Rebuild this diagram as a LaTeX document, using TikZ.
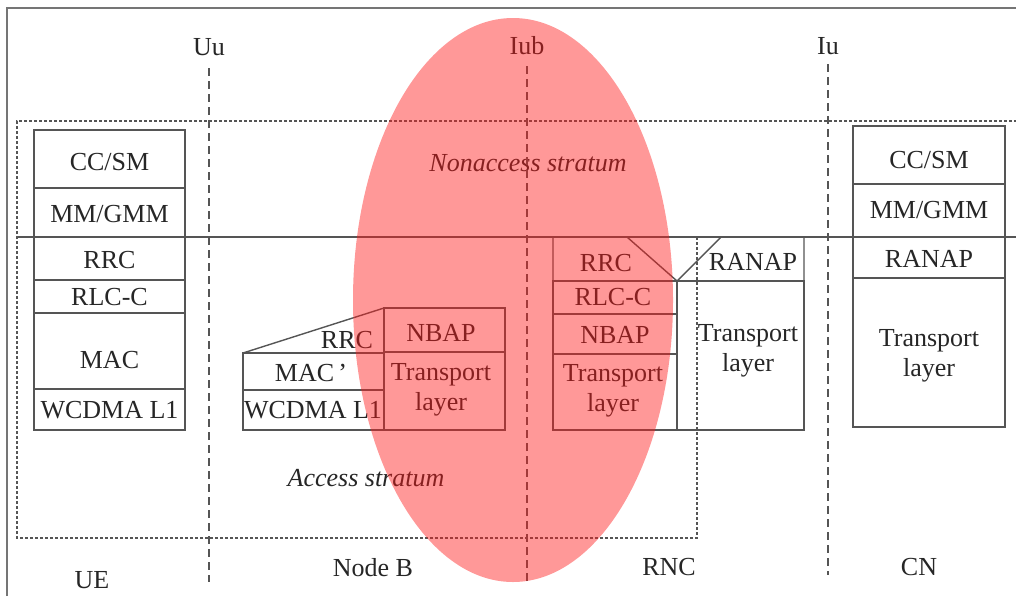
\documentclass[tikz,border=0pt]{standalone}
\usepackage{fontspec}
\setmainfont{Liberation Serif}
\usepackage{tikz}
\definecolor{framegray}{HTML}{757575}
\definecolor{linegray}{HTML}{555555}
\definecolor{textdark}{HTML}{262626}
\definecolor{stratumred}{HTML}{FF1A1A}
\tikzstyle{cell} = [draw=linegray, line width=0.7pt]
\tikzstyle{lbl} = [text=textdark, font=\fontsize{13}{15}\selectfont, align=center, inner sep=0pt]
\tikzstyle{stratumlbl} = [lbl, font=\fontsize{13}{15}\selectfont\itshape]
\tikzstyle{iface} = [draw=linegray, line width=0.7pt, dash pattern=on 4pt off 2.5pt]
\tikzstyle{stratumline} = [draw=linegray, line width=0.75pt, dash pattern=on 1.5pt off 1pt]

\begin{document}
\begin{tikzpicture}[x=0.5pt, y=-0.5pt]
    \useasboundingbox (0,0) rectangle (1016,596);
    \draw[framegray, line width=1pt] (7,596) -- (7,8) -- (1016,8);

    % strata
    \draw[stratumline] (697,237) -- (697,538) -- (17,538) -- (17,121) -- (1016,121);
    \draw[linegray, line width=0.8pt] (17,237) -- (1016,237);
    \node[stratumlbl] (nas) at (528,163) {Nonaccess stratum};
    \node[stratumlbl] (as) at (366,478) {Access stratum};

    % interfaces
    \node[lbl] (uu) at (209,47) {Uu};
    \node[lbl] (iub) at (527,46) {Iub};
    \node[lbl] (iu) at (828,46) {Iu};
    \draw[iface] (209,68) -- (209,582);
    \draw[iface] (527,66) -- (527,582);
    \draw[iface] (828,64) -- (828,575);

    % UE
    \draw[cell] (34,130) rectangle (185,188);
    \draw[cell] (34,188) rectangle (185,237);
    \draw[cell] (34,237) rectangle (185,280);
    \draw[cell] (34,280) rectangle (185,313);
    \draw[cell] (34,313) rectangle (185,389);
    \draw[cell] (34,389) rectangle (185,430);
    \node[lbl] (uecc) at (109.5,162) {CC/SM};
    \node[lbl] (uemm) at (109.5,214) {MM/GMM};
    \node[lbl] (uerrc) at (109.5,260) {RRC};
    \node[lbl] (uerlc) at (109.5,297) {RLC-C};
    \node[lbl] (uemac) at (109.5,360) {MAC};
    \node[lbl] (uel1) at (109.5,410) {WCDMA L1};

    % Node B
    \draw[cell] (243,353) -- (384,308);
    \draw[cell] (243,353) rectangle (384,390);
    \draw[cell] (243,390) rectangle (384,430);
    \draw[cell] (384,308) rectangle (505,352);
    \draw[cell] (384,352) rectangle (505,430);
    \node[lbl] (nbrrc) at (347,340) {RRC};
    \node[lbl] (nbmac) at (311,373) {MAC\,’};
    \node[lbl] (nbl1) at (313,410) {WCDMA L1};
    \node[lbl] (nbnbap) at (441,333) {NBAP};
    \node[lbl] (nbtl) at (441,390) {Transport\\layer};

    % RNC
    \draw[cell] (553,237) -- (627,237) -- (677,281) -- (553,281) -- cycle;
    \draw[cell] (553,281) rectangle (677,314);
    \draw[cell] (553,314) rectangle (677,354);
    \draw[cell] (553,354) rectangle (677,430);
    \draw[cell] (677,281) -- (721,237) -- (804,237) -- (804,281) -- cycle;
    \draw[cell] (677,281) rectangle (804,430);
    \node[lbl] (rncrrc) at (606,263) {RRC};
    \node[lbl] (rncrlc) at (613,297) {RLC-C};
    \node[lbl] (rncnbap) at (615,335) {NBAP};
    \node[lbl] (rnctl) at (613,391) {Transport\\layer};
    \node[lbl] (rncranap) at (753,262) {RANAP};
    \node[lbl] (rnctlr) at (748,351) {Transport\\layer};

    % CN
    \draw[cell] (853,126) rectangle (1005,184);
    \draw[cell] (853,184) rectangle (1005,237);
    \draw[cell] (853,237) rectangle (1005,278);
    \draw[cell] (853,278) rectangle (1005,427);
    \node[lbl] (cncc) at (929,160) {CC/SM};
    \node[lbl] (cnmm) at (929,210) {MM/GMM};
    \node[lbl] (cnranap) at (929,259) {RANAP};
    \node[lbl] (cntl) at (929,356) {Transport\\layer};

    % network elements
    \node[lbl] (ue) at (92,580) {UE};
    \node[lbl] (nodeb) at (373,568) {Node B};
    \node[lbl] (rnc) at (669,567) {RNC};
    \node[lbl] (cn) at (919,567) {CN};

    \fill[stratumred, fill opacity=0.45] (513,300) ellipse [x radius=80pt, y radius=141pt];
\end{tikzpicture}
\end{document}
